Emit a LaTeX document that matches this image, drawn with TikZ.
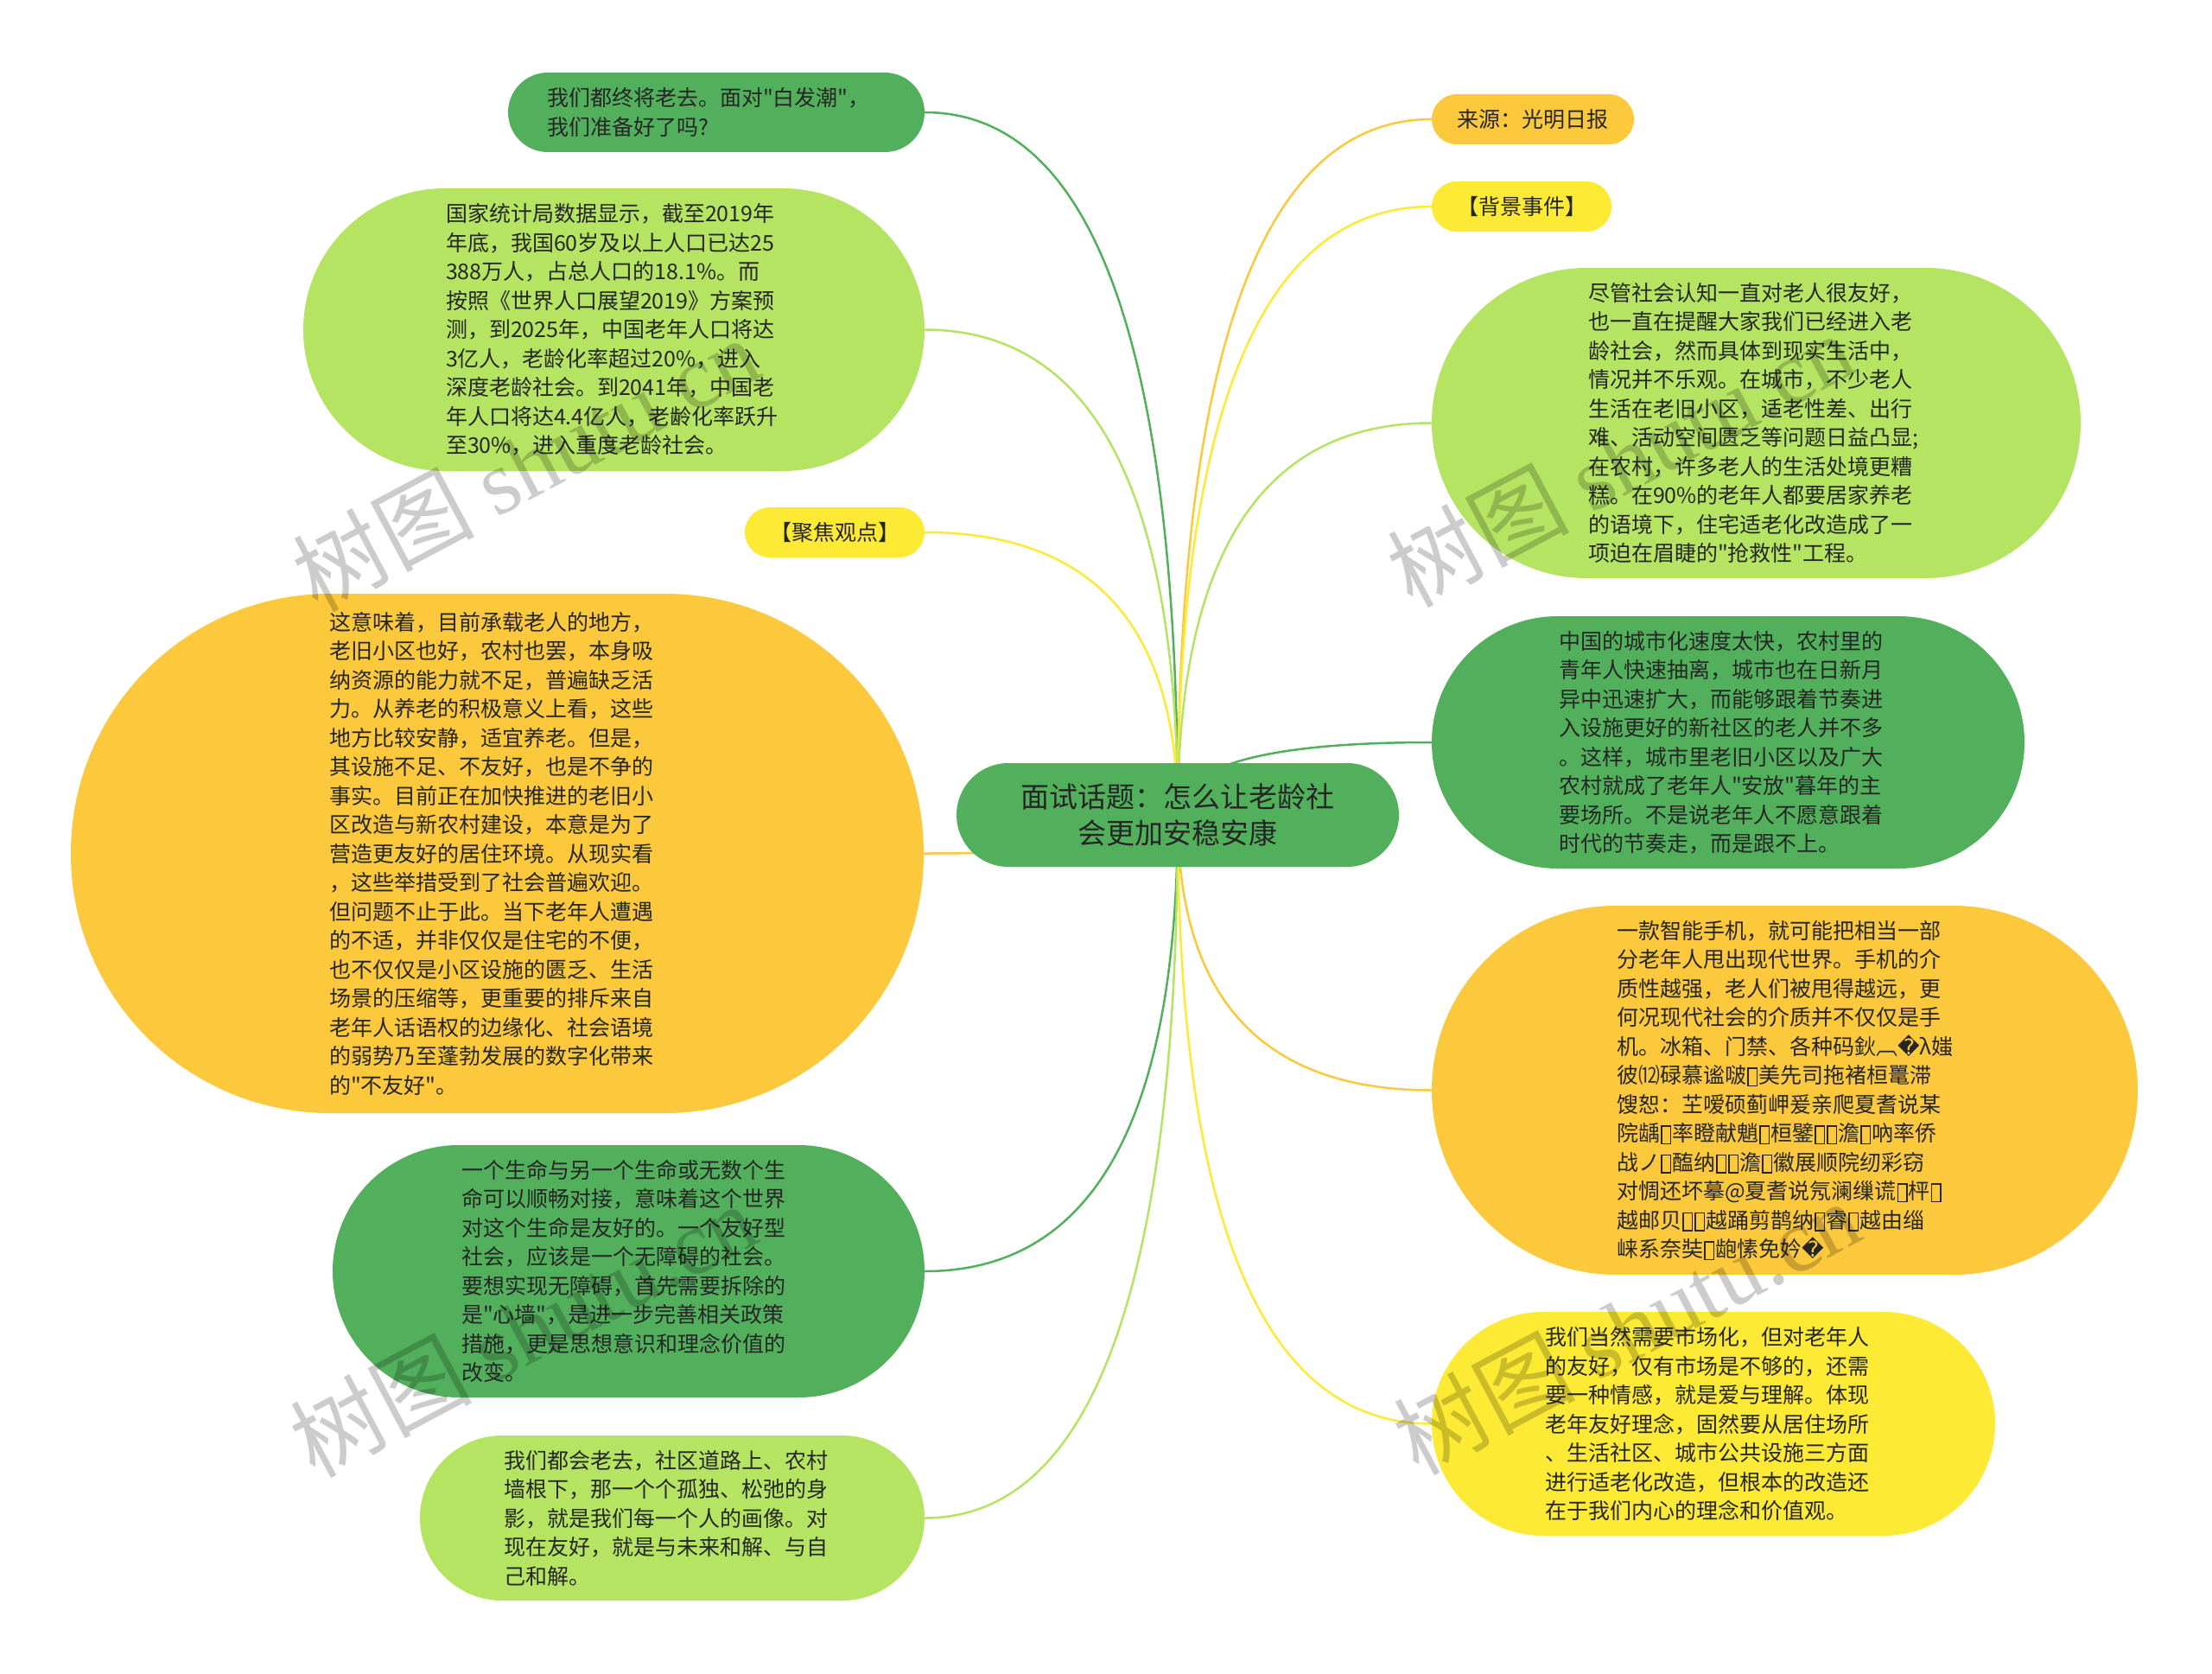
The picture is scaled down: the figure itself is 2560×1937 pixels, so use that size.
\documentclass[tikz,border=0pt]{standalone}
\usepackage{fontspec}
\newfontfamily\cjk{Noto Sans CJK SC}
\newfontfamily\djv{DejaVu Sans}
\newfontfamily\wmserif{Liberation Serif}
\usetikzlibrary{calc,backgrounds}
\pgfdeclarelayer{bgzero}
\pgfsetlayers{bgzero,background,main}
\definecolor{dgreen}{RGB}{82,176,92}
\definecolor{lgreen}{RGB}{180,228,98}
\definecolor{orng}{RGB}{252,201,60}
\definecolor{yel}{RGB}{253,234,52}
\definecolor{txt}{RGB}{38,38,38}
\newcommand\tofu{\kern1pt\raisebox{-2pt}{\setlength{\fboxsep}{0pt}\setlength{\fboxrule}{1.5pt}\fbox{\rule{0pt}{19pt}\rule{9pt}{0pt}}}\kern1pt}
\begin{document}
\begin{tikzpicture}[x=1pt,y=-1pt,
  bubble/.style={inner sep=0pt, align=left, text=txt, font=\cjk\fontsize{25}{33.5}\selectfont},
  tag/.style={inner sep=0pt, align=center, text=txt, font=\cjk\fontsize{25}{33.5}\selectfont},
  conn/.style={line width=2.5pt},
  wm/.style={anchor=west, rotate=28, text=black, opacity=0.2, inner sep=0pt, font=\fontsize{105}{105}\selectfont}
]
\begin{pgfonlayer}{bgzero}
\fill[white] (0,0) rectangle (2560,1937);
\end{pgfonlayer}
\useasboundingbox (0,0) rectangle (2560,1937);

% root
\node[tag, fill=dgreen, minimum width=512pt, minimum height=120pt, rounded corners=60pt, font=\cjk\fontsize{33}{42}\selectfont] (root) at (1363,943) {面试话题：怎么让老龄社\\会更加安稳安康};

% left side
\node[bubble, fill=dgreen, minimum width=482pt, minimum height=92pt, rounded corners=46pt, text width=392pt] (A) at (829,130) {我们都终将老去。面对"白发潮"，\\我们准备好了吗?};

\node[bubble, fill=lgreen, minimum width=719pt, minimum height=327pt, rounded corners=163.5pt, text width=389pt] (B) at (710.5,381.5) {国家统计局数据显示，截至2019年\\年底，我国60岁及以上人口已达25\\388万人，占总人口的18.1\%。而\\按照《世界人口展望2019》方案预\\测，到2025年，中国老年人口将达\\3亿人，老龄化率超过20\%，进入\\深度老龄社会。到2041年，中国老\\年人口将达4.4亿人，老龄化率跃升\\至30\%，进入重度老龄社会。};

\node[tag, fill=yel, minimum width=208pt, minimum height=58pt, rounded corners=29pt] (C) at (966,616) {【聚焦观点】};

\node[bubble, fill=orng, minimum width=987pt, minimum height=601pt, rounded corners=300pt, text width=389pt] (D) at (575.5,987.5) {这意味着，目前承载老人的地方，\\老旧小区也好，农村也罢，本身吸\\纳资源的能力就不足，普遍缺乏活\\力。从养老的积极意义上看，这些\\地方比较安静，适宜养老。但是，\\其设施不足、不友好，也是不争的\\事实。目前正在加快推进的老旧小\\区改造与新农村建设，本意是为了\\营造更友好的居住环境。从现实看\\，这些举措受到了社会普遍欢迎。\\但问题不止于此。当下老年人遭遇\\的不适，并非仅仅是住宅的不便，\\也不仅仅是小区设施的匮乏、生活\\场景的压缩等，更重要的排斥来自\\老年人话语权的边缘化、社会语境\\的弱势乃至蓬勃发展的数字化带来\\的"不友好"。};

\node[bubble, fill=dgreen, minimum width=685pt, minimum height=292pt, rounded corners=146pt, text width=387pt] (E) at (727.5,1471) {一个生命与另一个生命或无数个生\\命可以顺畅对接，意味着这个世界\\对这个生命是友好的。一个友好型\\社会，应该是一个无障碍的社会。\\要想实现无障碍，首先需要拆除的\\是"心墙"，是进一步完善相关政策\\措施，更是思想意识和理念价值的\\改变。};

\node[bubble, fill=lgreen, minimum width=584pt, minimum height=191pt, rounded corners=95.5pt, text width=390pt] (F) at (778,1756.5) {我们都会老去，社区道路上、农村\\墙根下，那一个个孤独、松弛的身\\影，就是我们每一个人的画像。对\\现在友好，就是与未来和解、与自\\己和解。};

% right side
\node[tag, fill=orng, minimum width=234pt, minimum height=58pt, rounded corners=29pt] (G) at (1774,138) {来源：光明日报};

\node[tag, fill=yel, minimum width=208pt, minimum height=58pt, rounded corners=29pt] (H) at (1761,239) {【背景事件】};

\node[bubble, fill=lgreen, minimum width=751pt, minimum height=359pt, rounded corners=179.5pt, text width=389pt] (I) at (2032.5,489.5) {尽管社会认知一直对老人很友好，\\也一直在提醒大家我们已经进入老\\龄社会，然而具体到现实生活中，\\情况并不乐观。在城市，不少老人\\生活在老旧小区，适老性差、出行\\难、活动空间匮乏等问题日益凸显;\\在农村，许多老人的生活处境更糟\\糕。在90\%的老年人都要居家养老\\的语境下，住宅适老化改造成了一\\项迫在眉睫的"抢救性"工程。};

\node[bubble, fill=dgreen, minimum width=686pt, minimum height=292pt, rounded corners=146pt, text width=392pt] (J) at (2000,859) {中国的城市化速度太快，农村里的\\青年人快速抽离，城市也在日新月\\异中迅速扩大，而能够跟着节奏进\\入设施更好的新社区的老人并不多\\。这样，城市里老旧小区以及广大\\农村就成了老年人"安放"暮年的主\\要场所。不是说老年人不愿意跟着\\时代的节奏走，而是跟不上。};

\node[bubble, fill=orng, minimum width=817pt, minimum height=427pt, rounded corners=213.5pt, text width=389pt] (K) at (2065.5,1261.5) {一款智能手机，就可能把相当一部\\分老年人甩出现代世界。手机的介\\质性越强，老人们被甩得越远，更\\何况现代社会的介质并不仅仅是手\\机。冰箱、门禁、各种码鈥︹{\djv �}λ媸\\彼⑿碌慕谧啵\tofu 美先司拖褚桓鼍滞\\馊恕：芏嗳硕蓟岬爰亲爬夏耆说某\\院龋\tofu 率瞪献魈\tofu 桓鐾\tofu\tofu 澹\tofu 吶率侨\\战ノ\tofu 醢纳\tofu\tofu 澹\tofu 徽展顺院纫彩窃\\对惆还坏摹@夏耆说氖澜缫谎\tofu 枰\tofu\\越邮贝\tofu\tofu 越踊剪鹊纳\tofu 睿\tofu 越由缁\\崃系奈奘\tofu 龅愫免妗{\djv �}};

\node[bubble, fill=yel, minimum width=652pt, minimum height=259pt, rounded corners=129.5pt, text width=390pt] (L) at (1983,1647.5) {我们当然需要市场化，但对老年人\\的友好，仅有市场是不够的，还需\\要一种情感，就是爱与理解。体现\\老年友好理念，固然要从居住场所\\、生活社区、城市公共设施三方面\\进行适老化改造，但根本的改造还\\在于我们内心的理念和价值观。};

% connectors
\begin{pgfonlayer}{background}
\foreach \n/\c/\a in {A/dgreen/east, B/lgreen/east, C/yel/east, D/orng/east, E/dgreen/east, F/lgreen/east,
                      G/orng/west, H/yel/west, I/lgreen/west, J/dgreen/west, K/orng/west, L/yel/west}
  \draw[conn, draw=\c] (\n.\a) .. controls ($(\n.\a)!0.6667!(root.center |- \n.\a)$) and ($(root.center)!0.6667!(root.center |- \n.\a)$) .. (root.center);
\end{pgfonlayer}

% watermarks
\node[wm] (w1) at (349,674) {\cjk 树图 \wmserif shutu.cn};
\node[wm] (w2) at (1616,669) {\cjk 树图 \wmserif shutu.cn};
\node[wm] (w3) at (346,1676) {\cjk 树图 \wmserif shutu.cn};
\node[wm] (w4) at (1623,1673) {\cjk 树图 \wmserif shutu.cn};
\end{tikzpicture}
\end{document}
